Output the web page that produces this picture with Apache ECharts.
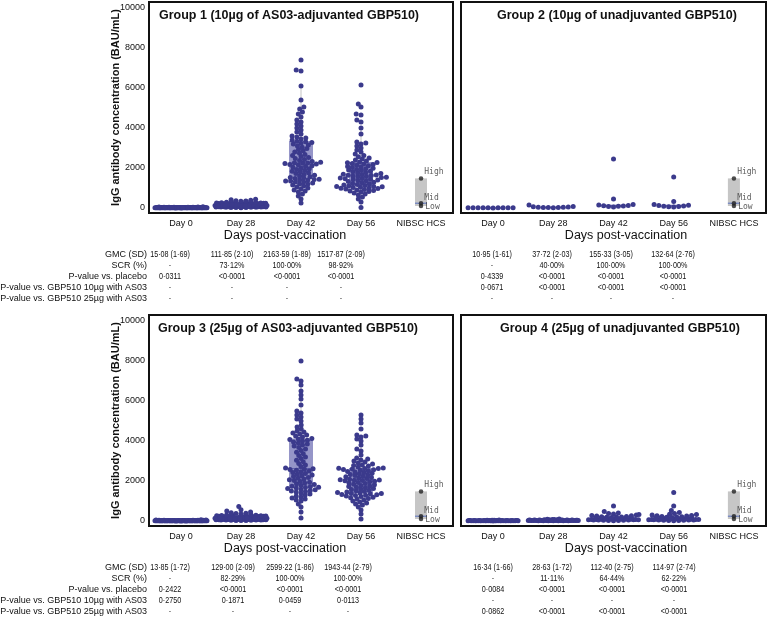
<!DOCTYPE html>
<html><head><meta charset="utf-8">
<script src="https://cdn.jsdelivr.net/npm/echarts@6/dist/echarts.min.js"></script>
<style>html,body{margin:0;padding:0;background:#fff}#c{width:770px;height:617px}</style>
</head><body><div id="c"></div>
<script>
// ---------------- DATA ----------------
const categories = ['Day 0','Day 28','Day 42','Day 56','NIBSC HCS'];
const yTicks = [0,2000,4000,6000,8000,10000];
const groupTitles = ['Group 1 (10µg of AS03-adjuvanted GBP510)','Group 2 (10µg of unadjuvanted GBP510)','Group 3 (25µg of AS03-adjuvanted GBP510)','Group 4 (25µg of unadjuvanted GBP510)'];

// Group 1
const g1Day0 = [5,6,7,7,8,8,8,9,9,9,10,10,10,10,11,11,11,11,12,12,12,12,12,13,13,13,13,13,14,14,14,14,14,14,15,15,15,15,15,15,16,16,16,16,16,17,17,17,17,18,18,18,18,19,19,19,20,20,20,21,21,22,22,23,23,24,25,26,27,28,29,30,31,33,35,37,40,43,47,52,58,12,14,16,18,11,13,15,17,19,21,24,9];
const g1Day28 = [18,22,26,30,34,38,42,45,48,52,55,58,61,64,67,70,72,74,77,80,82,84,86,88,90,92,94,96,98,100,102,104,106,108,110,112,114,116,118,120,122,124,126,128,130,133,136,139,142,145,148,151,155,159,163,167,171,175,180,185,190,195,200,206,212,218,225,232,240,248,256,265,275,285,296,308,320,335,350,368,388,410,435,65,85,100,115,130,150,170,95,110,125];
const g1Day42 = [250,450,600,700,800,850,900,950,1000,1050,1100,1150,1200,1200,1250,1300,1300,1350,1350,1400,1400,1420,1440,
  1480,1500,1530,1560,1600,1640,1680,1720,1760,1800,1840,1880,1920,1960,2000,2040,2080,2110,2150,2180,2200,2220,2240,2250,
  2260,2290,2330,2380,2420,2470,2520,2570,2620,2680,2740,2800,2860,2920,2980,3040,3100,3150,3200,3240,3280,3310,3340,
  3400,3450,3500,3550,3600,3700,3800,3900,4000,4100,4200,4300,4400,4550,4700,4800,4950,5050,5400,6100,6850,6900,7400];
const g1Day56 = [30,300,450,550,650,700,750,800,820,850,880,900,930,950,970,990,1000,1020,1040,1060,1070,1080,1100,
  1120,1150,1180,1200,1230,1260,1290,1320,1350,1380,1400,1420,1440,1460,1480,1500,1520,1540,1560,1580,1600,1620,1640,1650,
  1660,1690,1720,1750,1780,1810,1840,1870,1900,1930,1960,1990,2020,2050,2080,2110,2140,2170,2200,2230,2260,2280,2300,
  2350,2400,2450,2500,2560,2620,2700,2800,2900,3000,3100,3200,3250,3300,3700,4000,4300,4400,4650,4700,5050,5200,6150];
// box: [Q1, median, Q3, whisker low, whisker high]
const g1Boxes = [[11,15,19,5,33],[70,115,185,18,410],[1450,2250,3350,250,6100],[1100,1650,2300,30,4000]];

// Group 2
const g2Day0 = [6,8,9,10,11,11,12,13,15,18];
const g2Day28 = [15,20,25,30,35,40,45,60,80,150];
const g2Day42 = [50,70,90,100,110,130,150,180,450,2450];
const g2Day56 = [55,65,80,90,100,120,140,180,320,1550];
const g2Boxes = [[9,11,13,6,18],[26,37,55,15,80],[92,120,170,50,180],[82,110,165,55,180]];

// Group 3
const g3Day0 = [5,6,6,7,7,8,8,8,9,9,9,9,10,10,10,10,10,11,11,11,11,11,12,12,12,12,12,13,13,13,13,13,14,14,14,14,14,15,15,15,15,16,16,16,16,17,17,17,18,18,18,19,19,20,20,21,21,22,23,24,25,26,27,28,30,32,34,36,39,42,46,51,57,10,12,14,16,11,13,15,9,8,12,14,17,19,22,10,11,13,15,7,9,12,16,20];
const g3Day28 = [20,25,30,35,40,44,48,52,56,60,63,66,69,72,75,78,81,84,87,90,93,96,99,102,105,108,111,114,117,120,123,126,129,132,135,138,141,144,147,150,154,158,162,166,170,175,180,185,190,195,200,206,212,218,225,232,240,248,257,266,276,286,297,309,322,336,352,370,390,415,450,500,560,720,70,85,100,115,130,145,160,90,105,120,135,150,110,125,140,80,95,175,60,112,128,138];
const g3Day42 = [150,450,700,850,1000,1050,1100,1150,1200,1250,1300,1350,1400,1450,1480,1500,1530,1560,1590,1620,1650,1670,1690,1710,
  1740,1780,1820,1860,1900,1940,1980,2020,2060,2100,2140,2180,2220,2260,2300,2340,2380,2420,2460,2500,2540,2570,2590,2610,
  2650,2720,2800,2880,2960,3040,3120,3200,3280,3360,3440,3520,3600,3680,3750,3800,3850,3900,3950,4000,4040,4070,4100,4120,
  4200,4300,4400,4450,4500,4600,4800,5000,5100,5300,5400,5500,5800,6100,6300,6500,6800,7000,7100,4250,4350,4700,5200,8000];
const g3Day56 = [100,350,550,700,800,850,900,950,1000,1050,1100,1130,1160,1190,1220,1250,1270,1290,1310,1330,1350,1370,1380,1395,
  1420,1450,1480,1510,1540,1570,1600,1630,1660,1690,1720,1750,1780,1810,1840,1870,1900,1930,1960,1990,2010,2030,2040,2045,
  2060,2090,2120,2150,2180,2210,2240,2270,2300,2330,2360,2390,2420,2450,2480,2510,2540,2560,2580,2600,2620,2630,2640,2650,
  2700,2750,2800,2850,2900,2950,3000,3050,3100,3150,3300,3500,3600,3800,4000,4100,4200,4250,4300,4600,4900,5100,5300,2780];
const g3Boxes = [[10,13,18,5,30],[85,130,200,20,370],[1720,2620,4120,150,7100],[1400,2050,2650,100,4300]];

// Group 4
const g4Day0 = [6,7,8,9,9,10,10,11,11,12,12,13,13,14,14,15,15,15,16,16,16,17,17,18,18,19,19,20,21,22,23,24,25,27,29,31,34,38,43,50,12,14,17,20,11];
const g4Day28 = [10,12,14,15,16,17,18,19,20,21,22,23,24,25,26,27,28,29,30,31,32,33,34,35,36,37,38,40,42,44,46,48,50,53,56,60,64,68,73,80,90,105,25,30,35];
const g4Day42 = [15,22,28,34,40,45,50,55,60,65,70,75,80,85,90,95,100,105,110,115,120,130,140,150,160,170,180,190,200,215,230,245,260,280,300,320,350,380,400,470,750,100,120,60,200];
const g4Day56 = [15,20,26,32,38,44,50,55,60,65,70,75,80,85,90,95,100,105,110,118,126,134,142,150,160,170,180,190,200,215,230,245,260,280,300,320,340,380,420,520,750,1420,90,130,170];
const g4Boxes = [[11,16,22,6,40],[20,28,40,10,70],[55,110,220,15,400],[60,115,230,15,420]];

// NIBSC HCS reference standards
const nibscLabels = ['Low','Mid','High'];
const nibscValues = [100,240,1480];

// Tables
const tableRowLabels = ['GMC (SD)','SCR (%)','P-value vs. placebo','P-value vs. GBP510 10µg with AS03','P-value vs. GBP510 25µg with AS03'];
const g1Table = [['15·08 (1·69)','111·85 (2·10)','2163·59 (1·89)','1517·87 (2·09)'],['-','73·12%','100·00%','98·92%'],['0·0311','<0·0001','<0·0001','<0·0001'],['-','-','-','-'],['-','-','-','-']];
const g2Table = [['10·95 (1·61)','37·72 (2·03)','155·33 (3·05)','132·64 (2·76)'],['-','40·00%','100·00%','100·00%'],['0·4339','<0·0001','<0·0001','<0·0001'],['0·0671','<0·0001','<0·0001','<0·0001'],['-','-','-','-']];
const g3Table = [['13·85 (1·72)','129·00 (2·09)','2599·22 (1·86)','1943·44 (2·79)'],['-','82·29%','100·00%','100·00%'],['0·2422','<0·0001','<0·0001','<0·0001'],['0·2750','0·1871','0·0459','0·0113'],['-','-','-','-']];
const g4Table = [['16·34 (1·66)','28·63 (1·72)','112·40 (2·75)','114·97 (2·74)'],['-','11·11%','64·44%','62·22%'],['0·0084','<0·0001','<0·0001','<0·0001'],['-','-','-','-'],['0·0862','<0·0001','<0·0001','<0·0001']];

// ---------------- LAYOUT ----------------
const FONT = '"Liberation Sans", Arial, sans-serif';
const X_MIN = -0.533, X_MAX = 4.533, Y_MIN = -250, Y_MAX = 10300;
const panels = [
  {left:149, top:2, width:304, height:211, days:[g1Day0,g1Day28,g1Day42,g1Day56], boxes:g1Boxes, table:g1Table, title:groupTitles[0], titleX:159, cols:[170,232,287,341], xlabX:285, yAxis:true},
  {left:461, top:2, width:305, height:211, days:[g2Day0,g2Day28,g2Day42,g2Day56], boxes:g2Boxes, table:g2Table, title:groupTitles[1], titleX:497, cols:[492,552,611,673], xlabX:626, yAxis:false},
  {left:149, top:315, width:304, height:211, days:[g3Day0,g3Day28,g3Day42,g3Day56], boxes:g3Boxes, table:g3Table, title:groupTitles[2], titleX:158, cols:[170,233,290,348], xlabX:285, yAxis:true},
  {left:461, top:315, width:305, height:211, days:[g4Day0,g4Day28,g4Day42,g4Day56], boxes:g4Boxes, table:g4Table, title:groupTitles[3], titleX:500, cols:[493,552,612,674], xlabX:626, yAxis:false}
];
const POINT = '#3b3a8c';
const DOT = 5, SWARM_D = 5, WRAP = 26, Y_STRETCH = 1.4;

function swarm(values, pxPerY) {
  const order = values.map((v,i)=>i).sort((a,b)=>values[a]-values[b]);
  const placed = [], out = new Array(values.length);
  const d2 = SWARM_D*SWARM_D;
  for (const i of order) {
    const y = values[i]*pxPerY*Y_STRETCH;
    const near = placed.filter(p => Math.abs(p.y-y) < SWARM_D);
    const cands = [0];
    for (const p of near) { const dx = Math.sqrt(d2-(p.y-y)*(p.y-y)); cands.push(p.x+dx, p.x-dx); }
    cands.sort((a,b)=>Math.abs(a)-Math.abs(b) || a-b);
    let best = 0;
    for (const c of cands) {
      if (near.every(p => (p.x-c)*(p.x-c)+(p.y-y)*(p.y-y) >= d2-1e-6)) { best = c; break; }
    }
    placed.push({x:best, y:y});
    let x = best;
    if (Math.abs(x) > WRAP) x = (((x+WRAP) % (2*WRAP)) + 2*WRAP) % (2*WRAP) - WRAP;
    out[i] = x;
  }
  return out;
}

function renderBox(params, api) {
  const x = api.value(0), q1 = api.value(1), med = api.value(2), q3 = api.value(3), lo = api.value(4), hi = api.value(5);
  const hw = 0.2;
  const a = api.coord([x-hw, q3]), b = api.coord([x+hw, q1]);
  const m1 = api.coord([x-hw, med]), m2 = api.coord([x+hw, med]);
  const pHi = api.coord([x, hi]), pQ3 = api.coord([x, q3]), pQ1 = api.coord([x, q1]), pLo = api.coord([x, lo]);
  return {type:'group', children:[
    {type:'line', shape:{x1:pHi[0],y1:pHi[1],x2:pQ3[0],y2:pQ3[1]}, style:{stroke:'#c4c4c4', lineWidth:1}},
    {type:'line', shape:{x1:pLo[0],y1:pLo[1],x2:pQ1[0],y2:pQ1[1]}, style:{stroke:'#c4c4c4', lineWidth:1}},
    {type:'rect', shape:{x:a[0], y:a[1], width:b[0]-a[0], height:Math.max(1.5, b[1]-a[1])}, style:{fill:'rgba(72,72,160,0.58)'}},
    {type:'line', shape:{x1:m1[0],y1:m1[1],x2:m2[0],y2:m2[1]}, style:{stroke:'#5c5cab', lineWidth:1}}
  ]};
}
function renderRef(params, api) {
  const x = api.value(0), lo = api.value(1), med = api.value(2), hi = api.value(3);
  const hw = 0.1;
  const a = api.coord([x-hw, hi]), b = api.coord([x+hw, lo]);
  const m1 = api.coord([x-hw, med]), m2 = api.coord([x+hw, med]);
  return {type:'group', children:[
    {type:'rect', shape:{x:a[0], y:a[1], width:b[0]-a[0], height:b[1]-a[1]}, style:{fill:'#c6c6c6'}},
    {type:'line', shape:{x1:m1[0],y1:m1[1],x2:m2[0],y2:m2[1]}, style:{stroke:'#5b73c0', lineWidth:1}}
  ]};
}

const grids = [], xAxes = [], yAxes = [], series = [], graphics = [];
panels.forEach((p, k) => {
  grids.push({left:p.left, top:p.top, width:p.width, height:p.height, show:true, borderColor:'#111', borderWidth:2, backgroundColor:'transparent'});
  xAxes.push({gridIndex:k, type:'value', min:X_MIN, max:X_MAX,
    axisLine:{show:false}, axisTick:{show:false}, splitLine:{show:false},
    axisLabel:{customValues:[0,1,2,3,4], formatter:v=>categories[Math.round(v)], fontFamily:FONT, fontSize:9, color:'#111', margin:6}});
  yAxes.push({gridIndex:k, type:'value', min:Y_MIN, max:Y_MAX,
    axisLine:{show:false}, splitLine:{show:false},
    axisTick:{show:false},
    axisLabel:{show:p.yAxis, customValues:yTicks, formatter:v=>String(v), fontFamily:FONT, fontSize:9, color:'#111', margin:4},
    name:p.yAxis ? 'IgG antibody concentration (BAU/mL)' : '', nameLocation:'middle', nameGap:28, nameMoveOverlap:false,
    nameTextStyle:{fontFamily:FONT, fontWeight:'bold', fontSize:11, color:'#111'}});
  const pxPerY = p.height/(Y_MAX-Y_MIN);
  const pxPerX = p.width/(X_MAX-X_MIN);
  series.push({type:'custom', xAxisIndex:k, yAxisIndex:k, renderItem:renderBox, silent:true, z:1,
    data:p.boxes.map((b,i)=>[i].concat(b))});
  series.push({type:'custom', xAxisIndex:k, yAxisIndex:k, renderItem:renderRef, silent:true, z:1,
    data:[[4, nibscValues[0], nibscValues[1], nibscValues[2]]]});
  const pts = [];
  p.days.forEach((vals, i) => {
    const offs = swarm(vals, pxPerY);
    vals.forEach((v, j) => pts.push([i + offs[j]/pxPerX, v]));
  });
  series.push({type:'scatter', xAxisIndex:k, yAxisIndex:k, data:pts, symbol:'circle', symbolSize:DOT,
    itemStyle:{color:POINT, opacity:1}, silent:true, z:3});
  const labOff = [[1,1],[0,-5],[0,-6]];
  series.push({type:'scatter', xAxisIndex:k, yAxisIndex:k, symbol:'circle', symbolSize:4.5, silent:true, z:4,
    itemStyle:{color:'#222'},
    data:nibscValues.map((v,i)=>({value:[4, v], label:{show:true, position:'right', distance:1, offset:labOff[i],
      formatter:nibscLabels[i], fontFamily:'"DejaVu Sans Mono", monospace', fontSize:8, color:'#333'}}))});
  graphics.push({type:'text', x:p.titleX, y:p.top+14, style:{text:p.title, font:'bold 12.5px '+FONT, fill:'#111', textAlign:'left', textVerticalAlign:'middle'}, silent:true});
  graphics.push({type:'text', x:p.xlabX, y:p.top+234, style:{text:'Days post-vaccination', font:'12.5px '+FONT, fill:'#111', textAlign:'center', textVerticalAlign:'middle'}, silent:true});
  const rowY = [253, 264, 275, 286, 297];
  p.table.forEach((row, r) => {
    row.forEach((txt, c) => {
      graphics.push({type:'text', x:p.cols[c], y:p.top+rowY[r], scaleX:0.8, style:{text:txt, font:'9px '+FONT, fill:'#111', textAlign:'center', textVerticalAlign:'middle'}, silent:true});
    });
    if (p.yAxis) {
      graphics.push({type:'text', x:147, y:p.top+rowY[r], style:{text:tableRowLabels[r], font:'9px '+FONT, fill:'#111', textAlign:'right', textVerticalAlign:'middle'}, silent:true});
    }
  });
});

const chart = echarts.init(document.getElementById('c'), null, {renderer:'canvas'});
chart.setOption({animation:false, backgroundColor:'#fff', grid:grids, xAxis:xAxes, yAxis:yAxes, series:series, graphic:graphics});
</script>
</body></html>
